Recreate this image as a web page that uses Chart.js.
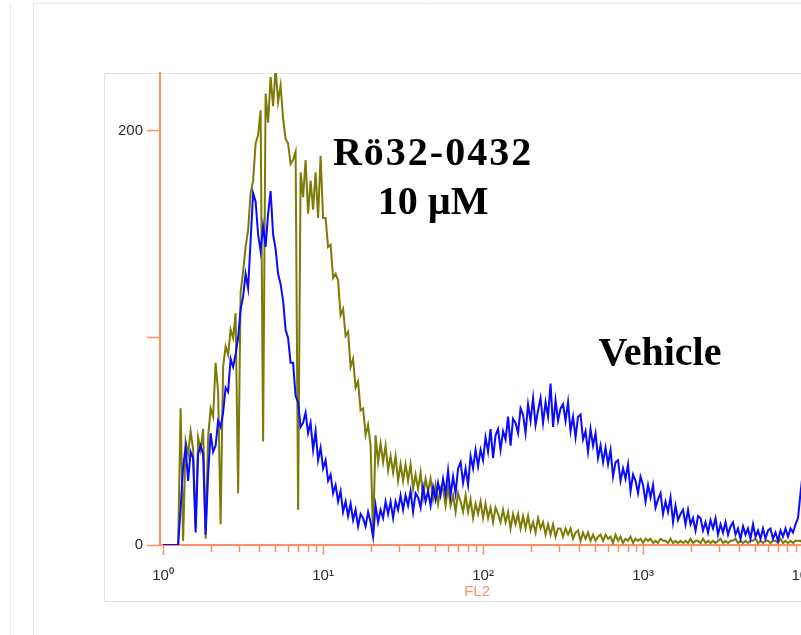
<!DOCTYPE html>
<html>
<head>
<meta charset="utf-8">
<script src="https://cdn.jsdelivr.net/npm/chart.js@4.4.1/dist/chart.umd.min.js"></script>
<style>
  html, body { margin: 0; padding: 0; background: #fff; overflow: hidden; }
  #wrap { position: absolute; left: 0; top: 0; width: 830px; height: 635px; }
</style>
</head>
<body>
<div id="wrap"><canvas id="histo"></canvas></div>
<script>
// FL2 histogram, 4-channel bins (256 channels per decade)
const channelStep = 4;

// Vehicle
const vehicleCounts = [
  0,0,0,0,0,0,0,18,38,47,31,45,42,6,44,48,
  44,5,34,54,45,48,60,57,64,76,74,90,86,92,100,114,
  120,131,124,147,170,166,150,142,154,144,160,171,150,143,131,126,
  118,104,100,88,88,72,69,57,59,64,54,59,46,55,41,47,
  37,41,31,34,25,29,21,26,16,21,14,20,12,17,9,15,
  13,9,16,11,4,19,11,17,13,21,15,21,13,21,17,24,
  17,24,19,26,16,25,23,18,28,21,26,19,28,22,30,24,
  32,25,36,24,33,25,37,40,30,37,29,43,37,46,38,46,
  41,52,45,56,42,53,56,46,55,51,62,48,61,59,54,66,
  63,54,68,60,71,58,65,71,59,69,62,78,57,70,60,66,
  68,60,69,55,62,52,62,63,51,55,45,56,48,54,42,48,
  40,47,39,46,33,40,41,31,37,32,39,26,34,31,25,33,
  29,21,29,23,29,18,22,25,15,21,16,23,11,19,12,15,
  17,10,17,10,13,7,14,13,7,11,6,12,8,13,5,10,
  6,11,5,9,11,5,8,3,9,5,8,3,10,4,7,3,
  8,3,7,8,3,6,2,7,4,8,4,8,6,10,13,25,
  36
];

// Rö32-0432 10 µM
const roCounts = [
  0,0,0,0,0,0,0,66,2,50,44,55,46,8,52,46,
  56,3,52,66,62,88,74,10,86,96,92,104,100,112,25,122,
  132,144,152,170,176,194,198,210,50,218,204,226,212,230,214,222,
  206,196,194,184,186,190,17,180,168,186,160,176,162,180,158,188,
  158,158,144,145,129,131,128,111,114,101,103,86,90,76,79,65,
  66,53,58,48,4,53,40,49,40,48,36,43,35,43,31,39,
  31,39,31,39,27,34,27,35,23,32,26,32,22,29,20,28,
  27,19,28,19,24,16,25,21,16,24,16,22,13,20,15,21,
  13,20,13,18,11,18,15,11,17,11,16,8,15,10,15,8,
  14,8,14,7,11,6,13,8,11,5,10,5,10,4,8,8,
  4,8,5,8,3,6,7,2,6,3,6,2,5,2,4,5,
  2,5,3,4,1,5,2,4,1,3,2,4,1,3,2,3,
  1,3,2,3,1,2,1,3,2,2,1,3,1,2,1,2,
  1,2,1,3,1,2,2,1,3,1,2,1,2,1,2,3,
  1,2,1,2,2,3,1,2,1,2,1,2,2,3,1,2,
  1,2,2,1,2,2,1,3,1,2,1,2,1,2,2,2,
  1
];

const decadeChannels = [0, 256, 512, 768, 1024];
const decadeLabels = ['10\u2070', '10\u00b9', '10\u00b2', '10\u00b3', '10\u2074'];
const countTicks = [0, 100, 200];
const countLabels = ['0', '', '200'];

const axisColor = '#ff8f66';
const labelColor = '#2b2b3a';
const sansFont = '"Liberation Sans", Arial, sans-serif';

function toPoints(arr) {
  return arr.map((v, i) => ({ x: i * channelStep, y: v }));
}

// marcos, ticks menores y rotulos
const panelPlugin = {
  id: 'panel',
  beforeDraw(chart) {
    const ctx = chart.ctx;
    ctx.save();
    ctx.strokeStyle = '#e6e6e6';
    ctx.lineWidth = 1;
    ctx.beginPath();
    ctx.moveTo(10.5, 3); ctx.lineTo(10.5, 635);
    ctx.moveTo(33.5, 3); ctx.lineTo(33.5, 635);
    ctx.moveTo(33, 3.5); ctx.lineTo(chart.width, 3.5);
    ctx.stroke();
    ctx.strokeStyle = '#e3e3e3';
    ctx.strokeRect(104.5, 73.5, chart.width, 528);
    ctx.restore();
  },
  beforeDatasetsDraw(chart) {
    const ctx = chart.ctx;
    const x = chart.scales.x;
    const bottom = chart.chartArea.bottom;
    ctx.save();
    ctx.strokeStyle = axisColor;
    ctx.lineWidth = 1.5;
    ctx.beginPath();
    for (let d = 0; d < 4; d++) {
      for (let k = 2; k <= 9; k++) {
        const px = Math.round(x.getPixelForValue(256 * (d + Math.log10(k)))) + 0.5;
        ctx.moveTo(px, bottom);
        ctx.lineTo(px, bottom + 7);
      }
    }
    ctx.stroke();
    ctx.restore();
  },
  afterDraw(chart) {
    const ctx = chart.ctx;
    const x = chart.scales.x;
    const y = chart.scales.y;
    ctx.save();
    ctx.fillStyle = axisColor;
    ctx.font = '15px ' + sansFont;
    ctx.textAlign = 'center';
    ctx.textBaseline = 'middle';
    ctx.fillText('FL2', x.getPixelForValue(512) - 6, 592);

    ctx.fillStyle = '#000';
    ctx.font = 'bold 40px "Liberation Serif", "Times New Roman", serif';
    ctx.textBaseline = 'alphabetic';
    ctx.letterSpacing = '2px';
    ctx.fillText('Rö32-0432', x.getPixelForValue(432), y.getPixelForValue(183.5));
    ctx.letterSpacing = '0px';
    ctx.fillText('10 µM', x.getPixelForValue(432), y.getPixelForValue(160));
    ctx.fillText('Vehicle', x.getPixelForValue(795), y.getPixelForValue(87));
    ctx.restore();
  }
};

new Chart(document.getElementById('histo'), {
  type: 'line',
  data: {
    datasets: [
      {
        label: 'Vehicle',
        data: toPoints(vehicleCounts),
        borderColor: '#0a0aff',
        borderWidth: 2
      },
      {
        label: 'Rö32-0432 10 µM',
        data: toPoints(roCounts),
        borderColor: '#7b7b06',
        borderWidth: 2
      }
    ]
  },
  options: {
    responsive: true,
    maintainAspectRatio: false,
    animation: false,
    layout: { padding: { top: 73, right: 17, bottom: 0, left: 0 } },
    plugins: { legend: { display: false }, tooltip: { enabled: false } },
    elements: { point: { radius: 0 }, line: { tension: 0 } },
    scales: {
      x: {
        type: 'linear',
        min: -5,
        max: 1040,
        afterBuildTicks: s => { s.ticks = decadeChannels.map(v => ({ value: v })); },
        afterFit: s => { s.height = 90; },
        ticks: {
          color: labelColor,
          font: { family: sansFont, size: 15 },
          padding: 12,
          maxRotation: 0,
          autoSkip: false,
          callback: v => decadeLabels[decadeChannels.indexOf(v)]
        },
        grid: { drawOnChartArea: false, tickLength: 10, tickColor: axisColor, tickWidth: 1.5 },
        border: { color: axisColor, width: 2 }
      },
      y: {
        min: 0,
        max: 228,
        afterBuildTicks: s => { s.ticks = countTicks.map(v => ({ value: v })); },
        afterFit: s => { s.width = 160; },
        ticks: {
          color: labelColor,
          font: { family: sansFont, size: 15 },
          padding: 4,
          callback: v => countLabels[countTicks.indexOf(v)]
        },
        grid: { drawOnChartArea: false, tickLength: 13, tickColor: axisColor, tickWidth: 1.5 },
        border: { color: axisColor, width: 2 }
      }
    }
  },
  plugins: [panelPlugin]
});
</script>
</body>
</html>
